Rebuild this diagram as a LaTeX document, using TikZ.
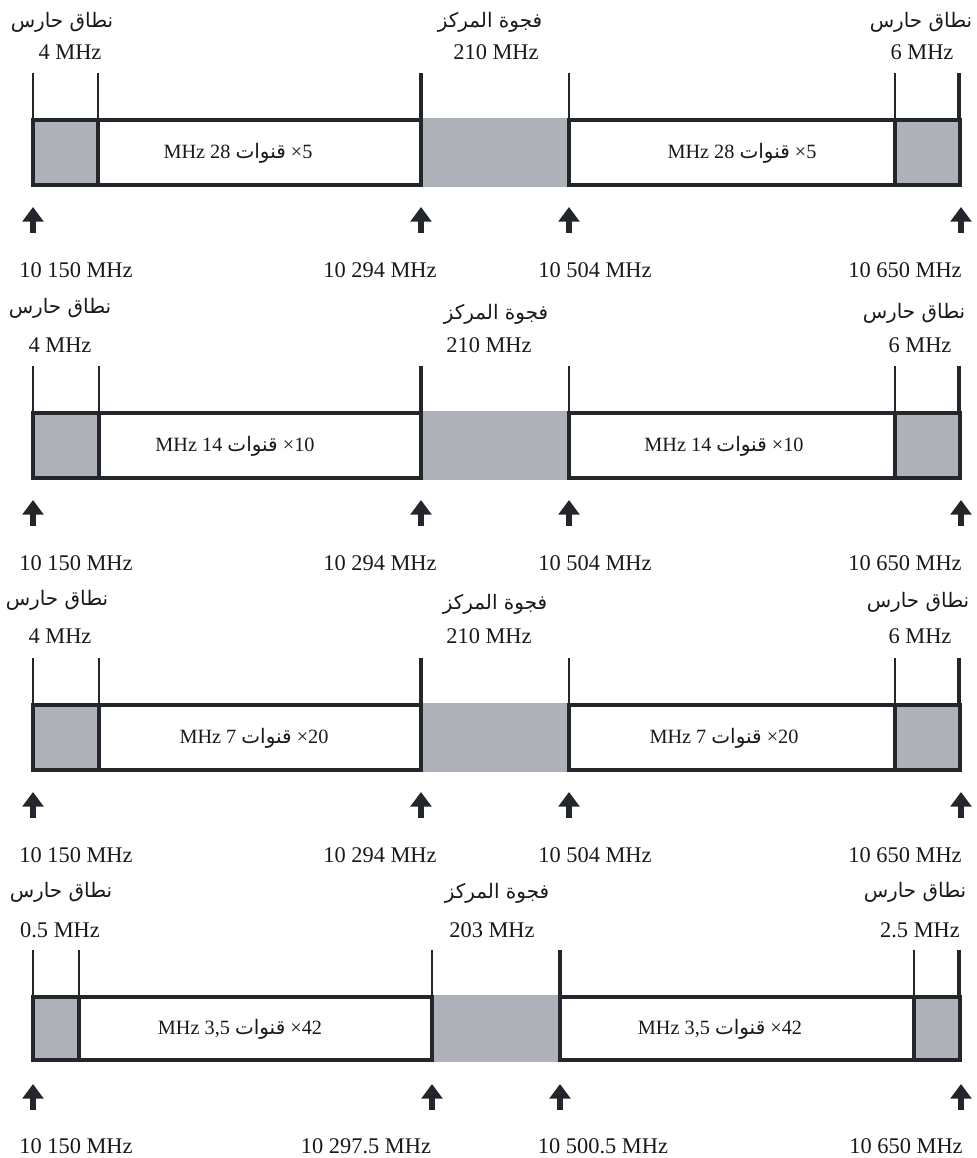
\documentclass[tikz,border=0pt]{standalone}
\usepackage{fontspec}
\setmainfont{Liberation Serif}
\newfontfamily\arabicfont[Script=Arabic]{DejaVu Sans}
\TeXXeTstate=1
\usetikzlibrary{arrows.meta}
\definecolor{gapgray}{RGB}{174,177,183}
\definecolor{inkc}{RGB}{35,38,42}
\definecolor{txtc}{RGB}{25,25,25}
\tikzset{
  bandline/.style={draw=inkc,line width=3.4pt},
  thintick/.style={draw=inkc,line width=1.3pt},
  thicktick/.style={draw=inkc,line width=3.2pt},
  guardfill/.style={fill=gapgray},
  uparrow/.style={draw=inkc,line width=3.8pt,-{Triangle[length=11pt,width=15.5pt]}},
  lbl/.style={inner sep=0pt,text=txtc,font=\fontsize{16.8}{18}\selectfont},
  arlbl/.style={inner sep=0pt,text=txtc,font=\fontsize{15}{17}\selectfont\arabicfont},
  chan/.style={inner sep=0pt,text=txtc,font=\fontsize{15.2}{17}\selectfont},
}
\newcommand{\chanar}[1]{{\fontsize{15}{17}\selectfont\arabicfont\beginR #1\endR}}
% #1 id, #2 top, #3 g1, #4 gap left, #5 gap right, #6 g2, #7 thick tick at gl (1) or gr (0), #8 band height
\newcommand{\bandgeom}[8]{%
  \begin{scope}[shift={(0,#2)}]
    \fill[guardfill] (33,-2.2) rectangle (#3,{#8+2.2});
    \fill[guardfill] (#4,-2.2) rectangle (#5,{#8+2.2});
    \fill[guardfill] (#6,-2.2) rectangle (960,{#8+2.2});
    \draw[bandline] (33,0) rectangle (#3,#8);
    \draw[bandline] (#3,0) rectangle (#4,#8);
    \draw[bandline] (#5,0) rectangle (#6,#8);
    \draw[bandline] (#6,0) rectangle (960,#8);
    \draw[thintick] (33,-47) -- (33,0);
    \draw[thintick] (#3,-47) -- (#3,0);
    \ifnum#7=1
      \draw[thicktick] (#4,-47) -- (#4,0);
      \draw[thintick] (#5,-47) -- (#5,0);
    \else
      \draw[thintick] (#4,-47) -- (#4,0);
      \draw[thicktick] (#5,-47) -- (#5,0);
    \fi
    \draw[thintick] (#6,-47) -- (#6,0);
    \draw[thicktick] (959,-47) -- (959,0);
    \coordinate (#1a1s) at (33,113);  \coordinate (#1a1e) at (33,87);
    \coordinate (#1a2s) at (#4,113);  \coordinate (#1a2e) at (#4,87);
    \coordinate (#1a3s) at (#5,113);  \coordinate (#1a3e) at (#5,87);
    \coordinate (#1a4s) at (961,113); \coordinate (#1a4e) at (961,87);
    \draw[uparrow] (#1a1s) -- (#1a1e);
    \draw[uparrow] (#1a2s) -- (#1a2e);
    \draw[uparrow] (#1a3s) -- (#1a3e);
    \draw[uparrow] (#1a4s) -- (#1a4e);
  \end{scope}}
\begin{document}
\begin{tikzpicture}[x=0.75pt,y=-0.75pt]
\useasboundingbox (0,0) rectangle (977,1158);
% ---------- panel 1 ----------
\bandgeom{pa}{120}{98}{421}{569}{895}{1}{65}
\node[arlbl] (pang1) at (62,22) {\beginR نطاق حارس\endR};
\node[arlbl] (panc) at (490,22) {\beginR فجوة المركز\endR};
\node[arlbl] (pang2) at (921,22) {\beginR نطاق حارس\endR};
\node[lbl] (pav1) at (70,52) {4 MHz};
\node[lbl] (pav2) at (496,52) {210 MHz};
\node[lbl] (pav3) at (922,52) {6 MHz};
\node[chan] (pacl) at (238,153) {MHz 28 \chanar{قنوات} ×5};
\node[chan] (pacr) at (742,153) {MHz 28 \chanar{قنوات} ×5};
\node[lbl] (paf1) at (76,270) {10 150 MHz};
\node[lbl] (paf2) at (380,270) {10 294 MHz};
\node[lbl] (paf3) at (595,270) {10 504 MHz};
\node[lbl] (paf4) at (905,270) {10 650 MHz};
% ---------- panel 2 ----------
\bandgeom{pb}{413}{99}{421}{569}{895}{1}{65}
\node[arlbl] (pbng1) at (60,308) {\beginR نطاق حارس\endR};
\node[arlbl] (pbnc) at (496,314) {\beginR فجوة المركز\endR};
\node[arlbl] (pbng2) at (914,313) {\beginR نطاق حارس\endR};
\node[lbl] (pbv1) at (60,345) {4 MHz};
\node[lbl] (pbv2) at (489,345) {210 MHz};
\node[lbl] (pbv3) at (920,345) {6 MHz};
\node[chan] (pbcl) at (235,446) {MHz 14 \chanar{قنوات} ×10};
\node[chan] (pbcr) at (724,446) {MHz 14 \chanar{قنوات} ×10};
\node[lbl] (pbf1) at (76,563) {10 150 MHz};
\node[lbl] (pbf2) at (380,563) {10 294 MHz};
\node[lbl] (pbf3) at (595,563) {10 504 MHz};
\node[lbl] (pbf4) at (905,563) {10 650 MHz};
% ---------- panel 3 ----------
\bandgeom{pc}{705}{99}{421}{569}{895}{1}{65}
\node[arlbl] (pcng1) at (57,600) {\beginR نطاق حارس\endR};
\node[arlbl] (pcnc) at (495,604) {\beginR فجوة المركز\endR};
\node[arlbl] (pcng2) at (918,602) {\beginR نطاق حارس\endR};
\node[lbl] (pcv1) at (60,636) {4 MHz};
\node[lbl] (pcv2) at (489,636) {210 MHz};
\node[lbl] (pcv3) at (920,636) {6 MHz};
\node[chan] (pccl) at (254,738) {MHz 7 \chanar{قنوات} ×20};
\node[chan] (pccr) at (724,738) {MHz 7 \chanar{قنوات} ×20};
\node[lbl] (pcf1) at (76,855) {10 150 MHz};
\node[lbl] (pcf2) at (380,855) {10 294 MHz};
\node[lbl] (pcf3) at (595,855) {10 504 MHz};
\node[lbl] (pcf4) at (905,855) {10 650 MHz};
% ---------- panel 4 ----------
\bandgeom{pd}{997}{79}{432}{560}{914}{0}{63}
\node[arlbl] (pdng1) at (61,892) {\beginR نطاق حارس\endR};
\node[arlbl] (pdnc) at (497,893) {\beginR فجوة المركز\endR};
\node[arlbl] (pdng2) at (915,892) {\beginR نطاق حارس\endR};
\node[lbl] (pdv1) at (60,930) {0.5 MHz};
\node[lbl] (pdv2) at (492,930) {203 MHz};
\node[lbl] (pdv3) at (920,930) {2.5 MHz};
\node[chan] (pdcl) at (240,1029) {MHz 3,5 \chanar{قنوات} ×42};
\node[chan] (pdcr) at (720,1029) {MHz 3,5 \chanar{قنوات} ×42};
\node[lbl] (pdf1) at (76,1146) {10 150 MHz};
\node[lbl] (pdf2) at (366,1146) {10 297.5 MHz};
\node[lbl] (pdf3) at (603,1146) {10 500.5 MHz};
\node[lbl] (pdf4) at (906,1146) {10 650 MHz};
\end{tikzpicture}
\end{document}
